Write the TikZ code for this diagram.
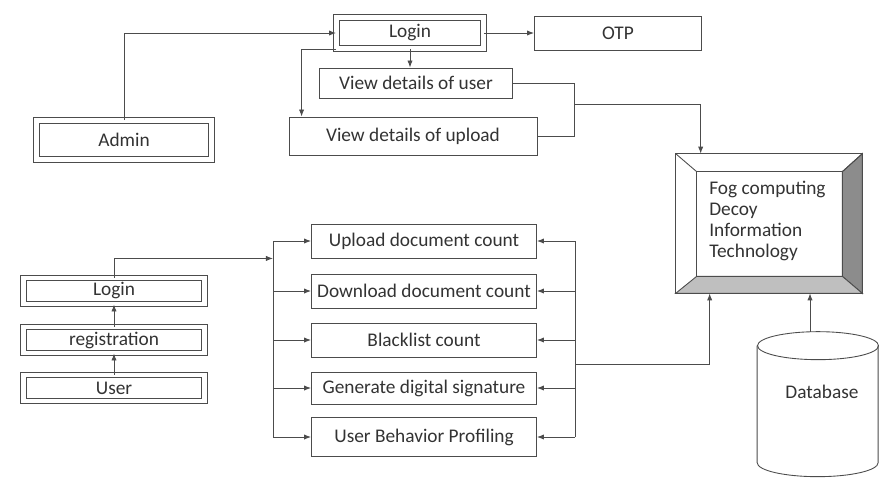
\documentclass[tikz,border=0pt]{standalone}
\usepackage{fontspec}
\setmainfont{Carlito}
\usetikzlibrary{arrows.meta,calc}

\tikzset{
  box/.style={draw=black!70, line width=0.5pt, inner sep=0pt, text=black!80,
    font=\fontsize{11}{13}\selectfont},
  dbox/.style={box, double=white, double distance=2.5pt},
  ln/.style={draw=black!70, line width=0.5pt},
  arr/.style={ln, -{Latex[length=4pt,width=3pt]}},
}

\begin{document}
\begin{tikzpicture}[x=0.02cm, y=-0.02cm]
    \fill[white] (0,0) rectangle (879,478);
    \useasboundingbox (0,0) rectangle (879,478);

    % admin side
    \node[dbox, minimum width=2.94cm, minimum height=0.62cm](login) at (410,33){Login};
    \node[box, minimum width=3.34cm, minimum height=0.68cm](otp) at (618,33){OTP};
    \node[box, minimum width=3.86cm, minimum height=0.6cm](vuser) at (416,83){View details of user};
    \node[box, minimum width=4.96cm, minimum height=0.76cm](vupload) at (413,136){View details of upload};
    \node[dbox, minimum width=3.5cm, minimum height=0.78cm](admin) at (124,140){Admin};

    % user side
    \node[dbox, minimum width=3.62cm, minimum height=0.52cm](ulogin) at (114,291){Login};
    \node[dbox, minimum width=3.62cm, minimum height=0.52cm](reg) at (114,340){registration};
    \node[dbox, minimum width=3.62cm, minimum height=0.52cm](user) at (114,388){User};

    % counts
    \node[box, minimum width=4.5cm, minimum height=0.68cm](upload) at (424,241){Upload document count};
    \node[box, minimum width=4.5cm, minimum height=0.68cm](download) at (424,291){Download document count};
    \node[box, minimum width=4.5cm, minimum height=0.68cm](blacklist) at (424,340){Blacklist count};
    \node[box, minimum width=4.5cm, minimum height=0.64cm](sign) at (424,388){Generate digital signature};
    \node[box, minimum width=4.5cm, minimum height=0.78cm](profile) at (424,437){User Behavior Profiling};

    % the bevel
    \node[minimum width=3.72cm, minimum height=2.78cm, inner sep=0pt](fog) at (769,223.5){};
    \coordinate (inw) at ($(fog.north west)+(21,18)$);
    \coordinate (ine) at ($(fog.north east)+(-20,18)$);
    \coordinate (ise) at ($(fog.south east)+(-20,-17)$);
    \coordinate (isw) at ($(fog.south west)+(21,-17)$);
    \filldraw[ln, fill=black!45] (fog.north east) -- (fog.south east) -- (ise) -- (ine) -- cycle;
    \filldraw[ln, fill=black!25] (fog.south west) -- (fog.south east) -- (ise) -- (isw) -- cycle;
    \draw[ln] (fog.north west) rectangle (fog.south east);
    \draw[ln] (inw) rectangle (ise);
    \draw[ln] (fog.north west) -- (inw) (fog.north east) -- (ine);
    \node[anchor=north west, align=left, inner sep=0pt, text=black!80,
      font=\fontsize{11}{12}\selectfont](fogtext) at (709,181)
      {Fog computing\\Decoy\\Information\\Technology};

    % database
    \node[minimum width=2.42cm, minimum height=2.9cm, inner sep=0pt](db) at (818,404.5){};
    \draw[ln, fill=white] ($(db.north west)+(0,14)$) -- ++(0,117)
      arc[start angle=180, end angle=360, x radius=1.21cm, y radius=0.28cm] -- ++(0,-117);
    \draw[ln] ($(db.north)+(0,14)$) ellipse[x radius=1.21cm, y radius=0.28cm];
    \node[text=black!80, font=\fontsize{11}{13}\selectfont](dbtext) at (822,392){Database};

    % admin links
    \draw[arr] (admin.north) |- (login.west);
    \draw[arr] (login.east) -- (otp.west);
    \draw[arr] (login.south) -- (login.south |- vuser.north);
    \draw[arr] (login.south west) -| ($(vupload.north west)+(13,0)$);
    \draw[ln] (vuser.east) -- ++(62,0) coordinate (j1);
    \draw[ln] (vupload.east) -| coordinate (j2) (j1);
    \draw[arr] ($(j1)!0.4!(j1 |- vupload.east)$) -| ($(fog.north west)+(25,0)$);

    % user links
    \draw[arr] (user.north) -- (reg.south);
    \draw[arr] (reg.north) -- (ulogin.south);
    \coordinate (lbus) at (273,0);
    \coordinate (rbus) at (575,0);
    \draw[arr] (ulogin.north) |- (lbus |- upload.south);
    \draw[ln] (lbus |- upload.west) -- (lbus |- profile.west);
    \draw[ln] (rbus |- upload.east) -- (rbus |- profile.east);
    \foreach \b in {upload,download,blacklist,sign,profile}{
      \draw[arr] (lbus |- \b.west) -- (\b.west);
      \draw[arr] (rbus |- \b.east) -- (\b.east);
    }
    \draw[arr] ($(rbus |- blacklist.east)!0.5!(rbus |- sign.east)$) -| ($(fog.south west)+(34,0)$);
    \draw[arr] ($(db.north)+(-8,0)$) coordinate (dbtop) -- (dbtop |- fog.south);
\end{tikzpicture}
\end{document}
